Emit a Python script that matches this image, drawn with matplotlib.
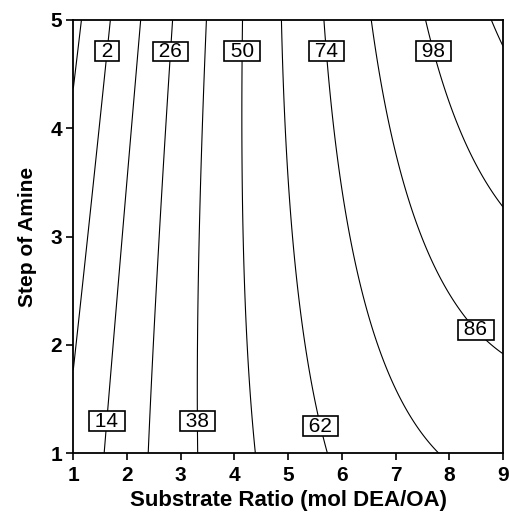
"""
Contour plot: Substrate Ratio vs Step of Amine
(quadratic response surface, coefficients estimated from the reference)
"""
import numpy as np
import matplotlib
matplotlib.use('Agg')
import matplotlib.pyplot as plt

# model: z = b0 + b1*x + b2*y + b11*x^2 + b22*y^2 + b12*x*y
coef = [-7.6339, 16.6479, -4.6143, -0.9245, -0.2702, 1.6524]

x_range = [1, 9]
y_range = [1, 5]
levels = [-10, 2, 14, 26, 38, 50, 62, 74, 86, 98, 110]
# where each contour label sits (x, y)
label_pos = [(1.67, 4.71), (1.66, 1.295), (2.80, 4.71), (3.32, 1.295),
             (4.15, 4.71), (5.58, 1.248), (5.69, 4.71), (8.49, 2.14),
             (7.69, 4.71)]

xg = np.linspace(x_range[0], x_range[1], 300)
yg = np.linspace(y_range[0], y_range[1], 300)
XX, YY = np.meshgrid(xg, yg)
ZZ = (coef[0] + coef[1] * XX + coef[2] * YY + coef[3] * XX ** 2
      + coef[4] * YY ** 2 + coef[5] * XX * YY)

plt.rcParams['font.family'] = ['Liberation Sans', 'DejaVu Sans']
fig = plt.figure(figsize=(5.1, 5.12), dpi=100)
ax = fig.add_axes([0.1437, 0.1146, 0.8426, 0.8464])

cs = ax.contour(XX, YY, ZZ, levels=levels, colors='black', linewidths=0.8,
                negative_linestyles='solid')
texts = ax.clabel(cs, manual=label_pos, inline=False, fmt=' %d ', fontsize=15)
for t in texts:
    t.set_rotation(0)
    t.set_bbox(dict(boxstyle='square,pad=0.02', facecolor='white',
                    edgecolor='black', linewidth=1.2))

ax.set_xlim(*x_range)
ax.set_ylim(*y_range)
ax.set_xticks(range(1, 10))
ax.set_yticks(range(1, 6))
ax.tick_params(direction='out', length=5, width=1.2, labelsize=15, pad=3)
ax.tick_params(axis='x', pad=4)
for lab in ax.get_xticklabels() + ax.get_yticklabels():
    lab.set_fontweight('bold')
for s in ax.spines.values():
    s.set_linewidth(1.3)
ax.set_xlabel('Substrate Ratio (mol DEA/OA)', fontsize=16, fontweight='bold', labelpad=4)
ax.set_ylabel('Step of Amine', fontsize=15, fontweight='bold', labelpad=10)

fig.savefig('out.png', dpi=100)
